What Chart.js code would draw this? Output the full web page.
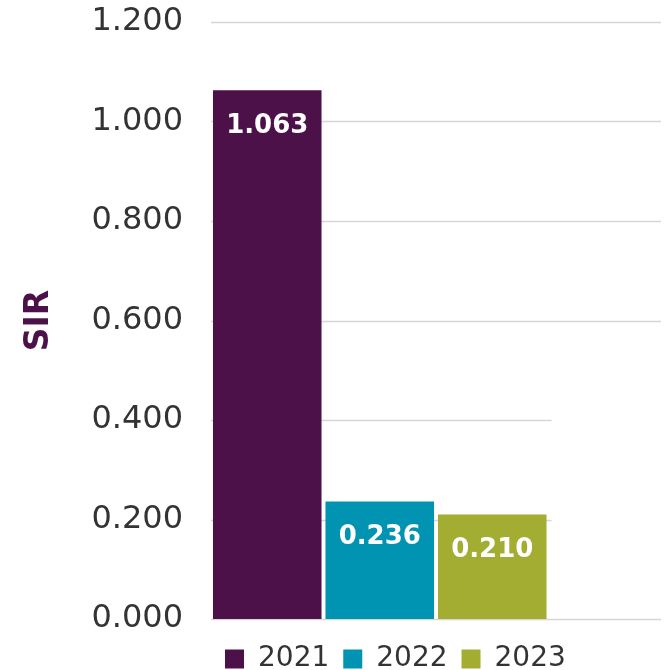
<!DOCTYPE html>
<html>
<head>
<meta charset="utf-8">
<script src="https://cdn.jsdelivr.net/npm/chart.js@4/dist/chart.umd.min.js"></script>
<style>
  html, body { margin: 0; padding: 0; background: #fff; }
  #wrap { width: 668px; height: 670px; }
</style>
</head>
<body>
<div id="wrap"><canvas id="sirChart" width="668" height="670"></canvas></div>
<script>
const years = ['2021', '2022', '2023'];
const sirValues = [1.063, 0.236, 0.210];
const barColors = ['#4D1149', '#0093B2', '#A3AD32'];
const yTicks = [0, 0.2, 0.4, 0.6, 0.8, 1.0, 1.2];

const FONT = "'DejaVu Sans', sans-serif";

// one dataset per year, plus an empty slot on the right like the original
const datasets = years.map((y, i) => ({
  label: y,
  data: [sirValues[i]],
  backgroundColor: barColors[i],
  barPercentage: 0.965,
  categoryPercentage: 1
}));
datasets.push({ label: '', data: [null], backgroundColor: 'transparent', barPercentage: 0.965, categoryPercentage: 1 });

// gridlines: lower ones stop at the end of the last bar
const gridLines = {
  id: 'gridLines',
  beforeDatasetsDraw(chart) {
    const { ctx, chartArea, scales } = chart;
    const last = chart.getDatasetMeta(years.length - 1).data[0];
    ctx.save();
    ctx.strokeStyle = '#d6d6d6';
    ctx.lineWidth = 1.5;
    yTicks.forEach(v => {
      const y = Math.round(scales.y.getPixelForValue(v)) + 0.5;
      let right = chartArea.right;
      if (v > 0 && v < 0.5) right = last.x + last.width / 2 + 5;
      ctx.beginPath();
      ctx.moveTo(chartArea.left, y);
      ctx.lineTo(right, y);
      ctx.stroke();
    });
    ctx.restore();
  }
};

const barLabels = {
  id: 'barLabels',
  afterDatasetsDraw(chart) {
    const { ctx } = chart;
    ctx.save();
    ctx.fillStyle = '#ffffff';
    ctx.font = 'bold 26px ' + FONT;
    ctx.textAlign = 'center';
    ctx.textBaseline = 'middle';
    years.forEach((y, i) => {
      const bar = chart.getDatasetMeta(i).data[0];
      ctx.fillText(sirValues[i].toFixed(3), bar.x, bar.y + 36);
    });
    ctx.restore();
  }
};

new Chart(document.getElementById('sirChart'), {
  type: 'bar',
  data: { labels: [''], datasets: datasets },
  options: {
    responsive: false,
    animation: false,
    layout: { padding: { top: 22, right: 7, left: 0, bottom: -13 } },
    scales: {
      x: {
        grid: { display: false },
        border: { display: false },
        ticks: { display: false },
        afterFit: scale => { scale.height = 12; }
      },
      y: {
        min: 0,
        max: 1.2,
        afterBuildTicks: scale => { scale.ticks = yTicks.map(v => ({ value: v })); },
        afterFit: scale => { scale.width = 211; scale.paddingTop = 0; scale.paddingBottom = 0; },
        grid: { display: false },
        border: { display: false },
        ticks: {
          padding: 20,
          color: '#333333',
          font: { family: FONT, size: 32 },
          callback: v => Number(v).toFixed(3)
        },
        title: {
          display: true,
          text: 'SIR',
          color: '#4D1149',
          font: { family: FONT, size: 33, weight: 'bold' },
          padding: { top: 20, bottom: 10 }
        }
      }
    },
    plugins: {
      tooltip: { enabled: false },
      legend: {
        position: 'bottom',
        align: 'start',
        fullSize: false,
        labels: {
          color: '#333333',
          font: { family: FONT, size: 28 },
          boxWidth: 19,
          boxHeight: 19,
          padding: 14,
          filter: item => item.text !== ''
        }
      }
    }
  },
  plugins: [gridLines, barLabels]
});
</script>
</body>
</html>
